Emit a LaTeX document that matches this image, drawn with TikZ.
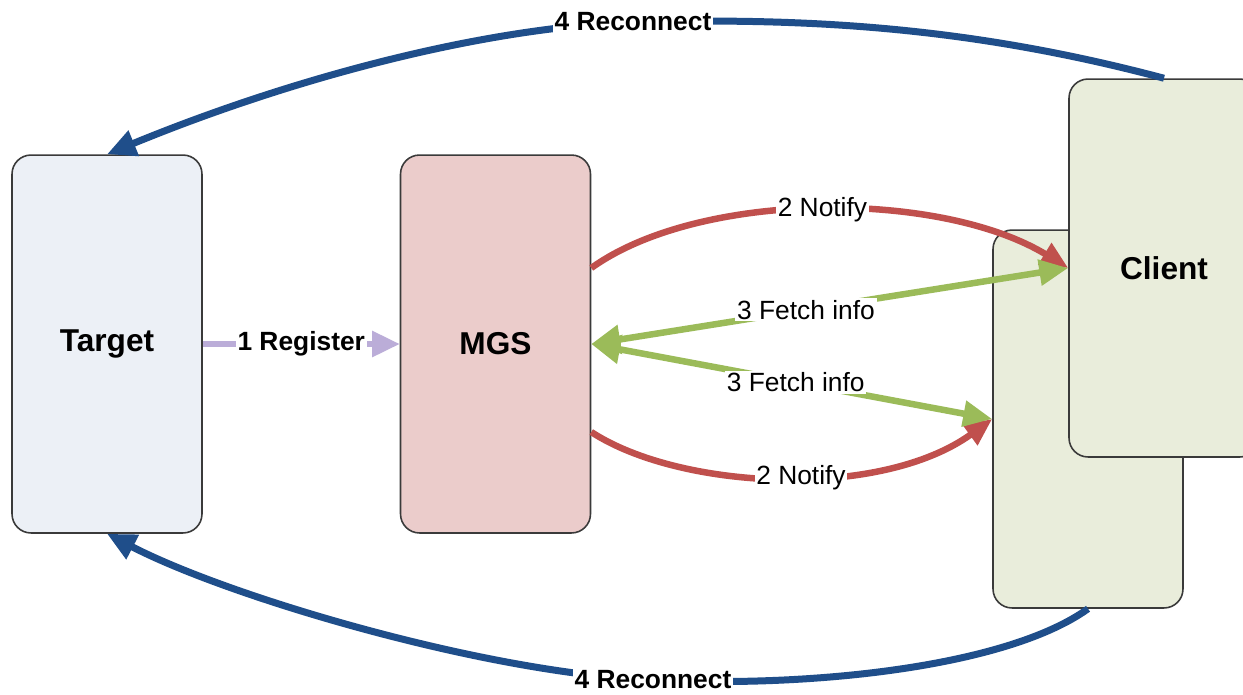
\documentclass[tikz,border=0pt]{standalone}
\usepackage{fontspec}
\setmainfont{Liberation Sans}
\usetikzlibrary{arrows.meta,calc}
\definecolor{boxline}{HTML}{3A3A3A}
\definecolor{targetfill}{HTML}{ECF0F6}
\definecolor{mgsfill}{HTML}{EBCCCB}
\definecolor{clientfill}{HTML}{E9EDDB}
\definecolor{reconblue}{HTML}{1F4E8A}
\definecolor{notifyred}{HTML}{C0504D}
\definecolor{fetchgreen}{HTML}{9BBB59}
\definecolor{reglav}{HTML}{BBADD8}
\begin{document}
\begin{tikzpicture}[x=0.02cm,y=-0.02cm,
  box/.style={draw=boxline, line width=0.9pt, rounded corners=0.38cm,
    minimum width=3.8cm, minimum height=7.56cm, inner sep=0pt,
    font=\bfseries\fontsize{18}{20}\selectfont},
  lbl/.style={fill=white, inner sep=1pt, font=\fontsize{15}{17}\selectfont},
  blbl/.style={lbl, font=\bfseries\fontsize{15}{17}\selectfont},
  reconnect/.style={draw=reconblue, line width=0.14cm,
    -{Triangle[length=0.58cm,width=0.52cm]}},
  notify/.style={draw=notifyred, line width=0.13cm,
    -{Triangle[length=0.55cm,width=0.48cm]}},
  fetch/.style={draw=fetchgreen, line width=0.13cm,
    {Triangle[length=0.58cm,width=0.56cm]}-{Triangle[length=0.58cm,width=0.5cm]}},
  register/.style={draw=reglav, line width=0.11cm,
    -{Triangle[length=0.55cm,width=0.5cm]}}]
\useasboundingbox (0,0) rectangle (1243,694);
\clip (0,0) rectangle (1243,694);
\fill[white] (0,0) rectangle (1243,694);

% nodes
\node[box, fill=targetfill] (target) at (107,344) {Target};
\node[box, fill=mgsfill] (mgs) at (495.5,344) {MGS};
\node[box, fill=clientfill] (clientb) at (1088,419) {};
\node[box, fill=clientfill] (clientf) at (1164,268) {Client};

% registration
\draw[register] (target.east) -- (mgs.west)
  node[pos=0.5, blbl] {1 Register};

% notifications
\draw[notify] ($(mgs.east)+(0,-76)$) .. controls (700,190) and (940,190) .. (clientf.west)
  node[pos=0.5, lbl] {2 Notify};
\draw[notify] ($(mgs.east)+(0,88)$) .. controls (680,490) and (880,500) .. (clientb.west)
  node[pos=0.54, lbl] {2 Notify};

% fetching configuration
\draw[fetch] (mgs.east) -- (clientf.west)
  node[pos=0.45, lbl] {3 Fetch info};
\draw[fetch] (mgs.east) -- (clientb.west)
  node[pos=0.51, lbl] {3 Fetch info};

% reconnection
\draw[reconnect] (clientf.north) .. controls (964,25) and (800,18) .. (633,22)
  node[blbl] {4 Reconnect}
  .. controls (480,28) and (290,79) .. (target.north);
\draw[reconnect] (clientb.south) .. controls (1010,665) and (820,688) .. (653,680)
  node[blbl] {4 Reconnect}
  .. controls (490,674) and (231,598) .. (target.south);
\end{tikzpicture}
\end{document}
